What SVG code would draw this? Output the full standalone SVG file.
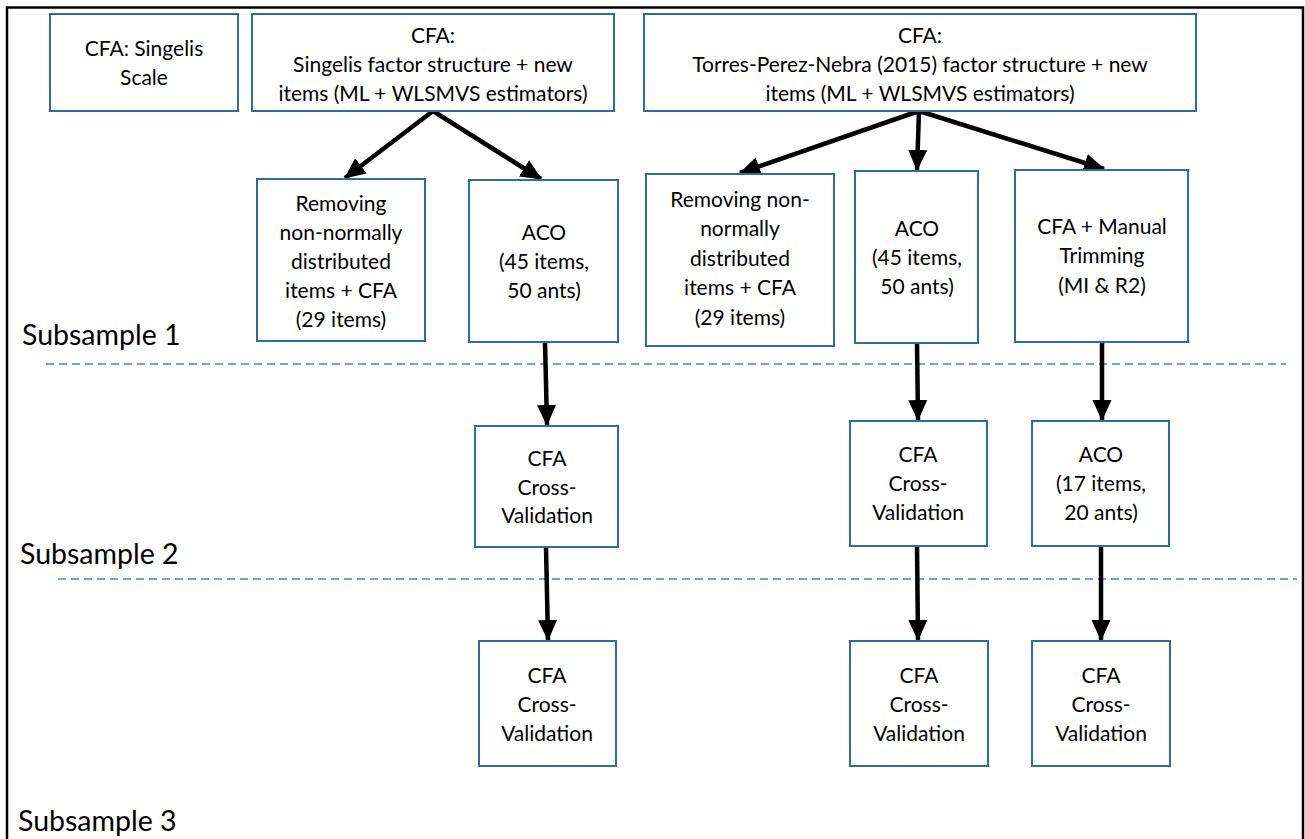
<svg xmlns="http://www.w3.org/2000/svg" width="1305" height="839" viewBox="0 0 1305 839">
<style>
.box{fill:#fff;stroke:#2F6BAA;stroke-width:2}
.t{font-family:Lato,"Open Sans",sans-serif;font-size:21px;fill:#000;text-anchor:middle}
.lab{font-family:Lato,"Open Sans",sans-serif;font-size:28.5px;fill:#000}
.dash{stroke:#4283CC;stroke-width:1.6;stroke-dasharray:8 5;fill:none}
.con{stroke:#000;stroke-width:4.5;fill:none;marker-end:url(#ah)}
</style>
<defs>
<marker id="ah" markerUnits="userSpaceOnUse" markerWidth="22" markerHeight="22" viewBox="0 0 22 22" refX="20" refY="11" orient="auto">
<path d="M0,1.5 L21,11 L0,20.5 Z" fill="#000"/>
</marker>
</defs>
<rect width="1305" height="839" fill="#fff"/>
<path d="M7,845 L7,7.5 L1303,7.5 L1303,845" fill="none" stroke="#000" stroke-width="2.5"/>
<g id="labels">
<text class="lab" x="22" y="345">Subsample 1</text>
<text class="lab" x="20" y="564">Subsample 2</text>
<text class="lab" x="18" y="831">Subsample 3</text>
</g>
<g id="dividers">
<line class="dash" x1="46" y1="364" x2="1286" y2="364"/>
<line class="dash" x1="58" y1="579" x2="1297" y2="579"/>
</g>
<g id="connectors">
<line class="con" x1="433" y1="111" x2="345" y2="178"/>
<line class="con" x1="433" y1="111" x2="541" y2="179"/>
<line class="con" x1="919" y1="111" x2="740" y2="173"/>
<line class="con" x1="919" y1="111" x2="917" y2="170"/>
<line class="con" x1="919" y1="111" x2="1104" y2="169"/>
<line class="con" x1="545" y1="342" x2="547" y2="425"/>
<line class="con" x1="917" y1="343" x2="918" y2="420"/>
<line class="con" x1="1102" y1="342" x2="1102" y2="420"/>
<line class="con" x1="546" y1="547" x2="548" y2="640"/>
<line class="con" x1="917" y1="546" x2="918" y2="640"/>
<line class="con" x1="1101" y1="546" x2="1101" y2="640"/>
</g>
<g id="n1"><rect class="box" x="50" y="14" width="188" height="97"/>
<text class="t" x="144" y="56">CFA: Singelis</text><text class="t" x="144" y="85">Scale</text></g>
<g id="n2"><rect class="box" x="252" y="14" width="362" height="97"/>
<text class="t" x="433" y="43">CFA:</text><text class="t" x="433" y="72">Singelis factor structure + new</text><text class="t" x="433" y="101">items (ML + WLSMVS estimators)</text></g>
<g id="n3"><rect class="box" x="644" y="14" width="552" height="97"/>
<text class="t" x="920" y="43">CFA:</text><text class="t" x="920" y="72">Torres-Perez-Nebra (2015) factor structure + new</text><text class="t" x="920" y="101">items (ML + WLSMVS estimators)</text></g>
<g id="n4"><rect class="box" x="257" y="179" width="168" height="162"/>
<text class="t" x="341" y="211">Removing</text><text class="t" x="341" y="240">non-normally</text><text class="t" x="341" y="269">distributed</text><text class="t" x="341" y="298">items + CFA</text><text class="t" x="341" y="327">(29 items)</text></g>
<g id="n5"><rect class="box" x="469" y="180" width="149" height="162"/>
<text class="t" x="544" y="240">ACO</text><text class="t" x="544" y="269">(45 items,</text><text class="t" x="544" y="298">50 ants)</text></g>
<g id="n6"><rect class="box" x="646" y="174" width="188" height="172"/>
<text class="t" x="740" y="207">Removing non-</text><text class="t" x="740" y="236">normally</text><text class="t" x="740" y="266">distributed</text><text class="t" x="740" y="295">items + CFA</text><text class="t" x="740" y="325">(29 items)</text></g>
<g id="n7"><rect class="box" x="855" y="171" width="123" height="172"/>
<text class="t" x="917" y="236">ACO</text><text class="t" x="917" y="265">(45 items,</text><text class="t" x="917" y="294">50 ants)</text></g>
<g id="n8"><rect class="box" x="1015" y="170" width="173" height="172"/>
<text class="t" x="1102" y="234">CFA + Manual</text><text class="t" x="1102" y="263">Trimming</text><text class="t" x="1102" y="293">(MI &amp; R2)</text></g>
<g id="n9"><rect class="box" x="475" y="426" width="143" height="121"/>
<text class="t" x="547" y="466">CFA</text><text class="t" x="547" y="495">Cross-</text><text class="t" x="547" y="523">Validation</text></g>
<g id="n10"><rect class="box" x="850" y="421" width="137" height="125"/>
<text class="t" x="918" y="462">CFA</text><text class="t" x="918" y="491">Cross-</text><text class="t" x="918" y="520">Validation</text></g>
<g id="n11"><rect class="box" x="1032" y="421" width="137" height="125"/>
<text class="t" x="1101" y="462">ACO</text><text class="t" x="1101" y="491">(17 items,</text><text class="t" x="1101" y="520">20 ants)</text></g>
<g id="n12"><rect class="box" x="479" y="641" width="137" height="125"/>
<text class="t" x="547" y="683">CFA</text><text class="t" x="547" y="712">Cross-</text><text class="t" x="547" y="741">Validation</text></g>
<g id="n13"><rect class="box" x="850" y="641" width="138" height="125"/>
<text class="t" x="919" y="683">CFA</text><text class="t" x="919" y="712">Cross-</text><text class="t" x="919" y="741">Validation</text></g>
<g id="n14"><rect class="box" x="1032" y="641" width="138" height="125"/>
<text class="t" x="1101" y="683">CFA</text><text class="t" x="1101" y="712">Cross-</text><text class="t" x="1101" y="741">Validation</text></g>
</svg>
